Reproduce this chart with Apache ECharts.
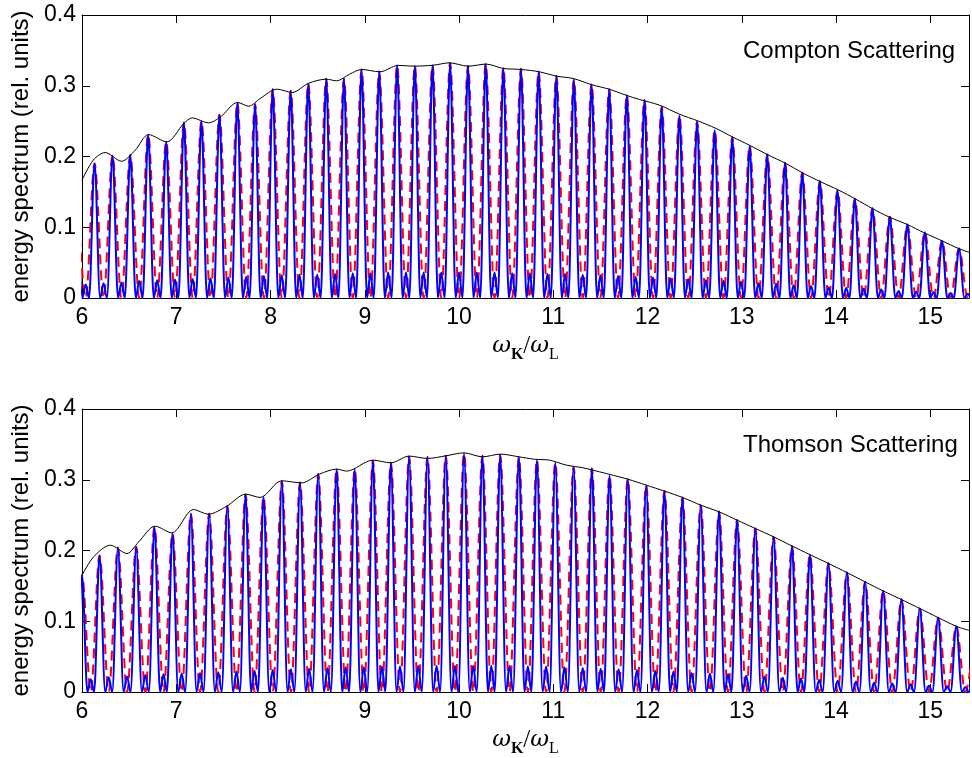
<!DOCTYPE html>
<html><head><meta charset="utf-8">
<script src="https://cdn.jsdelivr.net/npm/echarts@6/dist/echarts.min.js"></script>
<style>html,body{margin:0;padding:0;background:#fff}#c{width:972px;height:758px}</style>
</head><body><div id="c"></div>
<script>
// ---------- tick labels ----------
const xTickValues = [6, 7, 8, 9, 10, 11, 12, 13, 14, 15];
const yTickValues = [0, 0.1, 0.2, 0.3, 0.4];
const panelTitles = ['Compton Scattering', 'Thomson Scattering'];

// ---------- top panel (Compton) ----------
const comptonPeakX = [5.946, 6.133, 6.324, 6.512, 6.702, 6.893, 7.081, 7.267, 7.458, 7.648, 7.836, 8.023, 8.214, 8.400, 8.591, 8.779, 8.966, 9.153, 9.343, 9.531, 9.718, 9.905, 10.095, 10.283, 10.470, 10.657, 10.844, 11.032, 11.218, 11.406, 11.593, 11.780, 11.967, 12.150, 12.338, 12.525, 12.712, 12.899, 13.083, 13.270, 13.458, 13.641, 13.828, 14.015, 14.199, 14.386, 14.570, 14.756, 14.941, 15.124, 15.304, 15.490];
const comptonPeakY = [0.155, 0.190, 0.201, 0.202, 0.231, 0.221, 0.248, 0.250, 0.259, 0.276, 0.274, 0.295, 0.293, 0.303, 0.310, 0.310, 0.323, 0.320, 0.329, 0.328, 0.329, 0.332, 0.328, 0.331, 0.325, 0.324, 0.320, 0.314, 0.309, 0.302, 0.295, 0.287, 0.280, 0.270, 0.258, 0.249, 0.237, 0.227, 0.215, 0.203, 0.191, 0.177, 0.165, 0.152, 0.140, 0.127, 0.115, 0.104, 0.093, 0.081, 0.070, 0.059];
const comptonBumpY = [0.019, 0.021, 0.022, 0.024, 0.025, 0.026, 0.027, 0.028, 0.029, 0.030, 0.031, 0.032, 0.033, 0.033, 0.034, 0.035, 0.035, 0.036, 0.036, 0.036, 0.036, 0.036, 0.036, 0.036, 0.035, 0.035, 0.034, 0.034, 0.033, 0.032, 0.031, 0.030, 0.029, 0.028, 0.027, 0.025, 0.024, 0.023, 0.021, 0.020, 0.018, 0.017, 0.015, 0.014, 0.013, 0.012, 0.010, 0.009, 0.008, 0.007, 0.006];
const comptonEnvX = [6.0, 6.12, 6.245, 6.42, 6.565, 6.706, 6.90, 7.08, 7.17, 7.34, 7.47, 7.65, 7.77, 7.89, 8.07, 8.23, 8.40, 8.59, 8.70, 8.84, 8.966, 9.16, 9.354, 9.53, 9.725, 9.90, 10.095, 10.29, 10.466, 10.66, 10.855, 11.03, 11.21, 11.40, 11.60, 11.77, 11.914, 12.126, 12.338, 12.532, 12.727, 12.90, 13.08, 13.27, 13.47, 13.644, 13.84, 14.03, 14.21, 14.385, 14.56, 14.756, 14.93, 15.127, 15.30, 15.43];
const comptonEnvY = [0.1665, 0.195, 0.2056, 0.1933, 0.209, 0.231, 0.2207, 0.2467, 0.2546, 0.2475, 0.256, 0.2764, 0.2711, 0.282, 0.2952, 0.2905, 0.3033, 0.3093, 0.307, 0.3164, 0.323, 0.3197, 0.3287, 0.3277, 0.329, 0.3324, 0.3277, 0.3306, 0.3245, 0.323, 0.3197, 0.3136, 0.3103, 0.3018, 0.2948, 0.2867, 0.2806, 0.2726, 0.2598, 0.2504, 0.2396, 0.2277, 0.216, 0.2028, 0.190, 0.1768, 0.164, 0.1523, 0.1396, 0.1264, 0.1146, 0.1038, 0.0925, 0.0806, 0.0699, 0.0637];

// ---------- bottom panel (Thomson) ----------
const thomsonPeakX = [5.814, 6.000, 6.186, 6.381, 6.575, 6.769, 6.960, 7.155, 7.349, 7.542, 7.735, 7.926, 8.120, 8.313, 8.506, 8.701, 8.893, 9.086, 9.277, 9.470, 9.665, 9.859, 10.053, 10.248, 10.436, 10.635, 10.826, 11.021, 11.215, 11.409, 11.596, 11.790, 11.985, 12.179, 12.370, 12.564, 12.758, 12.949, 13.143, 13.337, 13.532, 13.722, 13.919, 14.114, 14.308, 14.499, 14.693, 14.888, 15.082, 15.275, 15.468];
const thomsonPeakY = [0.140, 0.165, 0.193, 0.204, 0.205, 0.233, 0.224, 0.252, 0.252, 0.263, 0.279, 0.276, 0.298, 0.296, 0.308, 0.315, 0.315, 0.327, 0.324, 0.333, 0.332, 0.334, 0.337, 0.334, 0.335, 0.332, 0.328, 0.324, 0.318, 0.316, 0.306, 0.301, 0.292, 0.284, 0.275, 0.264, 0.255, 0.243, 0.231, 0.219, 0.206, 0.194, 0.182, 0.169, 0.156, 0.143, 0.131, 0.118, 0.105, 0.093, 0.082];
const thomsonBumpY = [0.016, 0.018, 0.021, 0.022, 0.024, 0.025, 0.026, 0.027, 0.028, 0.029, 0.030, 0.031, 0.032, 0.033, 0.034, 0.035, 0.035, 0.036, 0.036, 0.037, 0.037, 0.037, 0.037, 0.037, 0.037, 0.036, 0.036, 0.035, 0.034, 0.033, 0.032, 0.031, 0.030, 0.029, 0.027, 0.026, 0.025, 0.023, 0.022, 0.020, 0.019, 0.017, 0.016, 0.015, 0.013, 0.012, 0.011, 0.009, 0.008, 0.007];
const thomsonEnvX = [6.0, 6.123, 6.30, 6.477, 6.60, 6.776, 6.953, 7.182, 7.341, 7.536, 7.737, 7.889, 8.119, 8.33, 8.52, 8.701, 8.807, 9.086, 9.277, 9.47, 9.665, 9.859, 10.053, 10.248, 10.442, 10.636, 10.80, 10.96, 11.138, 11.314, 11.49, 11.79, 11.985, 12.18, 12.37, 12.564, 12.759, 12.95, 13.143, 13.337, 13.53, 13.72, 13.92, 14.114, 14.308, 14.499, 14.693, 14.888, 15.082, 15.275, 15.43];
const thomsonEnvY = [0.165, 0.191, 0.2075, 0.1957, 0.212, 0.2344, 0.2249, 0.258, 0.2513, 0.2627, 0.2796, 0.275, 0.2985, 0.2956, 0.308, 0.315, 0.3122, 0.3277, 0.3239, 0.3334, 0.3301, 0.3338, 0.338, 0.3324, 0.3362, 0.3324, 0.329, 0.3277, 0.3207, 0.3169, 0.3112, 0.3008, 0.2924, 0.2839, 0.275, 0.2641, 0.2546, 0.2429, 0.2311, 0.2193, 0.2065, 0.1943, 0.1816, 0.1689, 0.1556, 0.1429, 0.1307, 0.118, 0.1052, 0.0929, 0.0863];

// ---------- build line data from the read key points ----------
// blue: main peak, zero, small side maximum, zero, next peak
function blueLine(px, py, bump) {
  const out = [];
  for (let i = 0; i < px.length; i++) {
    out.push([px[i], py[i]]);
    if (i < px.length - 1) {
      const a = px[i], b = px[i + 1];
      out.push([a + (b - a) * 0.31, 0]);
      out.push([(a + b) / 2, bump[i]]);
      out.push([a + (b - a) * 0.69, 0]);
    }
  }
  return out;
}
// red: peaks at the same places, zero at each side maximum
function redLine(px, py) {
  const out = [];
  for (let i = 0; i < px.length; i++) {
    out.push([px[i], py[i]]);
    if (i < px.length - 1) out.push([(px[i] + px[i + 1]) / 2, 0]);
  }
  return out;
}
function zip(xs, ys) { return xs.map((x, i) => [x, ys[i]]); }

const panels = [
  { peakX: comptonPeakX, peakY: comptonPeakY, bump: comptonBumpY, envX: comptonEnvX, envY: comptonEnvY },
  { peakX: thomsonPeakX, peakY: thomsonPeakY, bump: thomsonBumpY, envX: thomsonEnvX, envY: thomsonEnvY }
];

const FONT = 'Liberation Sans, Arial, Helvetica, sans-serif';
const XMIN = 6, XMAX = 15.41;
const gridTops = [15, 409];
const grids = gridTops.map(t => ({ left: 82, width: 888, top: t, height: 283, containLabel: false }));

const xAxes = [], yAxes = [], series = [];
grids.forEach((g, gi) => {
  const common = {
    type: 'value', gridIndex: gi, min: XMIN, max: XMAX, interval: 1,
    splitLine: { show: false },
    axisLine: { show: true, onZero: false, lineStyle: { color: '#000', width: 1 } },
    axisTick: { show: true, inside: true, length: 8, lineStyle: { color: '#000', width: 1 } }
  };
  xAxes.push(Object.assign({}, common, {
    position: 'bottom',
    axisLabel: {
      color: '#000', fontFamily: FONT, fontSize: 23, margin: 8,
      formatter: v => { const r = Math.round(v); return (Math.abs(v - r) < 1e-6 && xTickValues.includes(r)) ? String(r) : ''; }
    },
    name: '{w|ω}{k|K}{s|/}{w|ω}{l|L}',
    nameLocation: 'middle', nameGap: 31,
    nameTextStyle: {
      rich: {
        w: { fontFamily: 'DejaVu Serif, Liberation Serif, serif', fontStyle: 'italic', fontSize: 23, lineHeight: 34, verticalAlign: 'middle', color: '#000' },
        s: { fontFamily: 'Liberation Serif, DejaVu Serif, serif', fontSize: 25, lineHeight: 34, verticalAlign: 'middle', color: '#000' },
        k: { fontFamily: 'Liberation Serif, DejaVu Serif, serif', fontWeight: 'bold', fontSize: 16, lineHeight: 18, verticalAlign: 'bottom', color: '#000' },
        l: { fontFamily: 'Liberation Serif, DejaVu Serif, serif', fontSize: 16, lineHeight: 18, verticalAlign: 'bottom', color: '#000' }
      }
    }
  }));
  xAxes.push(Object.assign({}, common, { position: 'top', axisLabel: { show: false } }));
  const ycommon = {
    type: 'value', gridIndex: gi, min: 0, max: 0.4, interval: 0.1,
    splitLine: { show: false },
    axisLine: { show: true, onZero: false, lineStyle: { color: '#000', width: 1 } },
    axisTick: { show: true, inside: true, length: 8, lineStyle: { color: '#000', width: 1 } }
  };
  yAxes.push(Object.assign({}, ycommon, {
    position: 'left',
    axisLabel: {
      color: '#000', fontFamily: FONT, fontSize: 23, margin: 6,
      formatter: v => { const t = yTickValues.find(y => Math.abs(y - v) < 1e-9); return t === undefined ? '' : (t === 0 ? '0' : t.toFixed(1)); }
    },
    name: 'energy spectrum (rel. units)', nameLocation: 'middle', nameGap: 45,
    nameTextStyle: { color: '#000', fontFamily: FONT, fontSize: 24 }
  }));
  yAxes.push(Object.assign({}, ycommon, { position: 'right', axisLabel: { show: false } }));

  const p = panels[gi];
  const xi = gi * 2, yi = gi * 2;
  series.push({
    type: 'line', xAxisIndex: xi, yAxisIndex: yi, data: redLine(p.peakX, p.peakY),
    showSymbol: false, symbol: 'none', smooth: 0.35, smoothMonotone: 'x', clip: true, animation: false,
    lineStyle: { color: '#ff0000', width: 2, type: [10, 6] }, z: 2
  });
  series.push({
    type: 'line', xAxisIndex: xi, yAxisIndex: yi, data: blueLine(p.peakX, p.peakY, p.bump),
    showSymbol: false, symbol: 'none', smooth: 0.35, smoothMonotone: 'x', clip: true, animation: false,
    lineStyle: { color: '#0000ff', width: 2 }, z: 3
  });
  series.push({
    type: 'line', xAxisIndex: xi, yAxisIndex: yi, data: zip(p.envX, p.envY),
    showSymbol: false, symbol: 'none', smooth: 0.3, clip: true, animation: false,
    lineStyle: { color: '#000', width: 1 }, z: 4
  });
});

const chart = echarts.init(document.getElementById('c'), null, { renderer: 'canvas' });
chart.setOption({
  backgroundColor: '#fff',
  animation: false,
  grid: grids,
  xAxis: xAxes,
  yAxis: yAxes,
  series: series,
  graphic: panelTitles.map((t, i) => ({
    type: 'text', left: 743, top: gridTops[i] + 24,
    style: { text: t, font: '24px ' + FONT, fill: '#000' }
  }))
});
</script></body></html>
